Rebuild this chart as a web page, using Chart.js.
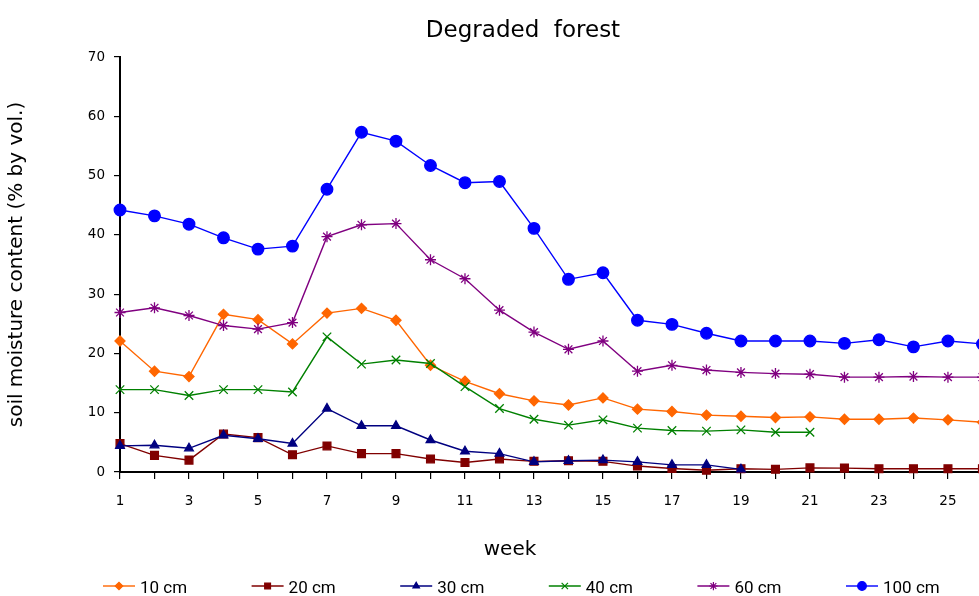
<!DOCTYPE html>
<html>
<head>
<meta charset="utf-8">
<title>Degraded forest</title>
<script src="https://cdn.jsdelivr.net/npm/chart.js@4.4.1/dist/chart.umd.min.js"></script>
<style>
  html, body { margin: 0; padding: 0; background: #fff; overflow: hidden; }
  #wrap { position: relative; width: 979px; height: 596px; }
</style>
</head>
<body>
<div id="wrap"><canvas id="chart"></canvas></div>
<script>
// data (week 26 sits just past the right edge)
const weeks = [1,2,3,4,5,6,7,8,9,10,11,12,13,14,15,16,17,18,19,20,21,22,23,24,25,26];
const cm10  = [22.1,17.0,16.1,26.6,25.7,21.6,26.8,27.6,25.6,18.0,15.3,13.2,12.0,11.3,12.5,10.6,10.2,9.6,9.4,9.2,9.3,8.9,8.9,9.1,8.8,8.4];
const cm20  = [4.8,2.8,2.0,6.4,5.8,2.9,4.4,3.1,3.1,2.2,1.6,2.2,1.8,1.9,1.8,1.0,0.6,0.3,0.55,0.45,0.7,0.65,0.55,0.55,0.55,0.55];
const cm30  = [4.4,4.5,4.0,6.2,5.6,4.8,10.7,7.8,7.8,5.4,3.5,3.1,1.7,1.9,2.0,1.7,1.2,1.2,0.45];
const cm40  = [13.9,13.9,12.9,13.9,13.9,13.5,22.8,18.2,18.9,18.3,14.4,10.7,8.9,7.9,8.8,7.4,7.0,6.9,7.1,6.7,6.7];
const cm60  = [26.9,27.7,26.4,24.7,24.1,25.2,39.7,41.7,41.9,35.8,32.6,27.3,23.6,20.7,22.1,17.0,18.0,17.2,16.8,16.6,16.5,16.0,16.0,16.1,16.0,16.0];
const cm100 = [44.2,43.2,41.8,39.5,37.6,38.1,47.7,57.3,55.8,51.7,48.8,49.0,41.1,32.5,33.6,25.6,24.9,23.4,22.1,22.1,22.1,21.7,22.3,21.1,22.1,21.6];

const seriesNames = ['10 cm','20 cm','30 cm','40 cm','60 cm','100 cm'];
const weekTicks = [1,2,3,4,5,6,7,8,9,10,11,12,13,14,15,16,17,18,19,20,21,22,23,24,25];
const moistureTicks = [0,10,20,30,40,50,60,70];

const titleText = 'Degraded  forest';
const xTitle = 'week';
const yTitle = 'soil moisture content (% by vol.)';

// looks
const styles = [
  {color:'#FF6600', point:'rectRot',  r:5},
  {color:'#800000', point:'rect',     r:5.5},
  {color:'#000080', point:'triangle', r:5},
  {color:'#008000', point:'crossRot', r:6},
  {color:'#800080', point:'star',     r:5.5},
  {color:'#0000FF', point:'circle',   r:5.8}
];
const values = [cm10, cm20, cm30, cm40, cm60, cm100];

const datasets = values.map((vals, i) => ({
  label: seriesNames[i],
  data: vals.map((v, j) => ({x: weeks[j], y: v})),
  borderColor: styles[i].color,
  backgroundColor: styles[i].color,
  pointBackgroundColor: styles[i].color,
  pointBorderColor: styles[i].color,
  pointStyle: styles[i].point,
  pointRadius: styles[i].r,
  pointBorderWidth: 1.3,
  borderWidth: 1.4,
  tension: 0,
  order: values.length - 1 - i,
  clip: {left: false, top: false, right: 0, bottom: false}
}));

// title, x title and legend at fixed spots
const annotate = {
  id: 'annotate',
  afterDraw(chart) {
    const ctx = chart.ctx;
    ctx.save();
    ctx.fillStyle = '#000';
    ctx.textAlign = 'center';
    ctx.textBaseline = 'alphabetic';
    ctx.font = '23px "DejaVu Sans"';
    ctx.fillText(titleText, 523, 37);
    ctx.font = '20px "DejaVu Sans"';
    ctx.fillText(xTitle, 510, 555);

    ctx.textAlign = 'left';
    ctx.font = '17px Roboto';
    chart.data.datasets.forEach((ds, i) => {
      const x0 = 103 + i * 148.6, y0 = 586;
      ctx.strokeStyle = ds.borderColor;
      ctx.lineWidth = 1.4;
      ctx.beginPath(); ctx.moveTo(x0, y0); ctx.lineTo(x0 + 32, y0); ctx.stroke();
      ctx.fillStyle = ds.pointBackgroundColor;
      ctx.lineWidth = 1.2;
      Chart.helpers.drawPoint(ctx, {pointStyle: ds.pointStyle, radius: ds.pointRadius * 0.75, borderWidth: 1.2, rotation: 0}, x0 + 16, y0);
      ctx.fillStyle = '#000';
      ctx.fillText(ds.label, x0 + 37, 593);
    });
    ctx.restore();
  }
};

new Chart(document.getElementById('chart'), {
  type: 'line',
  data: {datasets},
  plugins: [annotate],
  options: {
    responsive: true,
    maintainAspectRatio: false,
    animation: false,
    layout: {autoPadding: false, padding: {top: 57, right: 0, bottom: 60, left: 0}},
    plugins: {legend: {display: false}, tooltip: {enabled: false}, title: {display: false}},
    scales: {
      x: {
        type: 'linear',
        min: 1, max: 25.9,
        afterBuildTicks: s => { s.ticks = weekTicks.map(v => ({value: v})); },
        afterFit: s => { s.height = 64; s.paddingRight = 0; },
        ticks: {
          autoSkip: false, maxRotation: 0, padding: 14, color: '#000',
          font: {size: 13.5, family: 'DejaVu Sans'},
          callback: v => (v % 2 === 1 ? String(v) : '')
        },
        grid: {drawOnChartArea: false, drawTicks: true, tickLength: 7, color: '#000', lineWidth: 1.2},
        border: {color: '#000', width: 2}
      },
      y: {
        min: 0, max: 70,
        afterBuildTicks: s => { s.ticks = moistureTicks.map(v => ({value: v})); },
        afterFit: s => { s.width = 120; },
        ticks: {padding: 9, color: '#000', font: {size: 13.5, family: 'DejaVu Sans'}},
        grid: {drawOnChartArea: false, drawTicks: true, tickLength: 6, color: '#000', lineWidth: 1.2},
        border: {color: '#000', width: 2},
        title: {display: true, text: yTitle, color: '#000', font: {size: 20, family: 'DejaVu Sans'}, padding: {top: 5, bottom: 0}}
      }
    }
  }
});
</script>
</body>
</html>
